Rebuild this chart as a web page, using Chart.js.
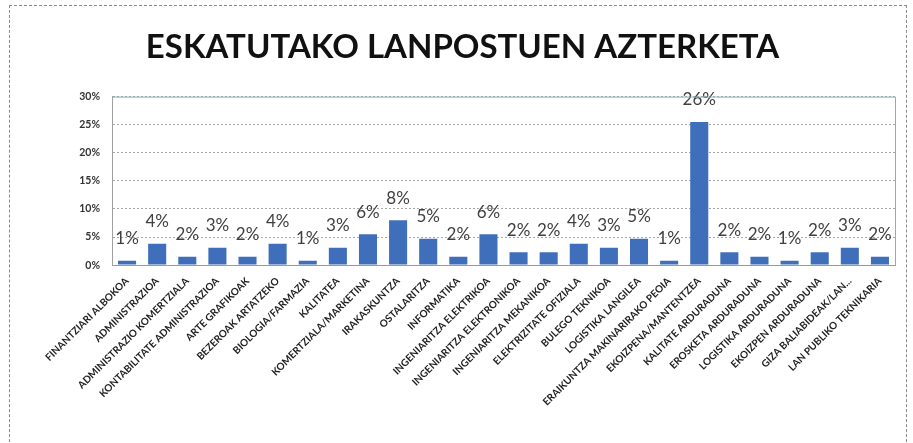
<!DOCTYPE html>
<html lang="eu">
<head>
<meta charset="UTF-8" />
<title>Eskatutako lanpostuen azterketa</title>
<script src="https://cdn.jsdelivr.net/npm/chart.js@4.4.1/dist/chart.umd.min.js"></script>
<style>
    html, body { margin: 0; padding: 0; background: #fff; overflow: hidden; }
    .wrap { position: relative; width: 913px; height: 443px; }
    .frame {
        position: absolute; left: 9px; top: 5px; width: 896px; height: 470px;
        border: 1px dashed #8a8a8a;
    }
    canvas { position: absolute; left: 0; top: 0; }
</style>
</head>
<body>
<div class="wrap">
    <div class="frame"></div>
    <canvas id="lanpostuak" width="913" height="443"></canvas>
</div>
<script>
// lanpostuak (categories)
const lanpostuak = [
    'FINANTZIARI ALBOKOA', 'ADMINISTRAZIOA', 'ADMINISTRAZIO KOMERTZIALA',
    'KONTABILITATE ADMINISTRAZIOA', 'ARTE GRAFIKOAK', 'BEZEROAK ARTATZEKO',
    'BIOLOGIA/FARMAZIA', 'KALITATEA', 'KOMERTZIALA/MARKETINA', 'IRAKASKUNTZA',
    'OSTALARITZA', 'INFORMATIKA', 'INGENIARITZA ELEKTRIKOA',
    'INGENIARITZA ELEKTRONIKOA', 'INGENIARITZA MEKANIKOA', 'ELEKTRIZITATE OFIZIALA',
    'BULEGO TEKNIKOA', 'LOGISTIKA LANGILEA', 'ERAIKUNTZA MAKINARIRAKO PEOIA',
    'EKOIZPENA/MANTENTZEA', 'KALITATE ARDURADUNA', 'EROSKETA ARDURADUNA',
    'LOGISTIKA ARDURADUNA', 'EKOIZPEN ARDURADUNA', 'GIZA BALIABIDEAK/LAN...',
    'LAN PUBLIKO TEKNIKARIA'
];
// percentages
const ehunekoak = [
    0.8, 3.8, 1.5, 3.1, 1.5, 3.8, 0.8, 3.1, 5.5, 8.0,
    4.7, 1.5, 5.5, 2.3, 2.3, 3.8, 3.1, 4.7, 0.8, 25.5,
    2.3, 1.5, 0.8, 2.3, 3.1, 1.5
];
const yTicks = [0, 5, 10, 15, 20, 25, 30];

// data labels on top of bars
const barLabels = {
    id: 'barLabels',
    afterDatasetsDraw(chart) {
        const ctx = chart.ctx;
        const meta = chart.getDatasetMeta(0);
        ctx.save();
        ctx.font = '17px Lato';
        ctx.fillStyle = '#404040';
        ctx.textAlign = 'center';
        ctx.textBaseline = 'middle';
        meta.data.forEach((bar, i) => {
            ctx.fillText(Math.round(ehunekoak[i]) + '%', bar.x, bar.y - 22);
        });
        ctx.restore();
    }
};

// teal top/right edge of the plot area
const plotEdge = {
    id: 'plotEdge',
    afterDraw(chart) {
        const a = chart.chartArea;
        const ctx = chart.ctx;
        ctx.save();
        ctx.strokeStyle = '#86b3bb';
        ctx.lineWidth = 1;
        ctx.beginPath();
        ctx.moveTo(a.left, a.top + 0.5);
        ctx.lineTo(a.right + 0.5, a.top + 0.5);
        ctx.lineTo(a.right + 0.5, a.bottom);
        ctx.stroke();
        ctx.restore();
    }
};

new Chart(document.getElementById('lanpostuak'), {
    type: 'bar',
    data: {
        labels: lanpostuak,
        datasets: [{
            data: ehunekoak,
            backgroundColor: '#3f6fbb',
            borderWidth: 0,
            barPercentage: 0.6,
            categoryPercentage: 1
        }]
    },
    options: {
        responsive: false,
        animation: false,
        layout: { padding: { left: 30, right: 18, top: 14, bottom: 33 } },
        plugins: {
            legend: { display: false },
            tooltip: { enabled: false },
            title: {
                display: true,
                text: 'ESKATUTAKO LANPOSTUEN AZTERKETA',
                color: '#111',
                font: { family: 'Lato', size: 33, weight: 'bold' },
                padding: { top: 14, bottom: 29 }
            }
        },
        scales: {
            x: {
                grid: { display: false },
                border: { color: '#9a9a9a' },
                ticks: {
                    autoSkip: false,
                    maxRotation: 45,
                    minRotation: 45,
                    padding: 2,
                    color: '#222',
                    font: { family: 'Lato', size: 10, weight: 'bold' }
                }
            },
            y: {
                min: 0,
                max: 30,
                afterBuildTicks(axis) {
                    axis.ticks = yTicks.map(v => ({ value: v }));
                },
                afterFit(axis) { axis.width = 82; },
                grid: {
                    color: '#a8a8a8',
                    drawTicks: false
                },
                border: { color: '#a0a0a0', dash: [2, 2] },
                ticks: {
                    padding: 12,
                    color: '#333',
                    font: { family: 'Lato', size: 10.5, weight: 'bold' },
                    callback: v => v + '%'
                }
            }
        }
    },
    plugins: [barLabels, plotEdge]
});
</script>
</body>
</html>
